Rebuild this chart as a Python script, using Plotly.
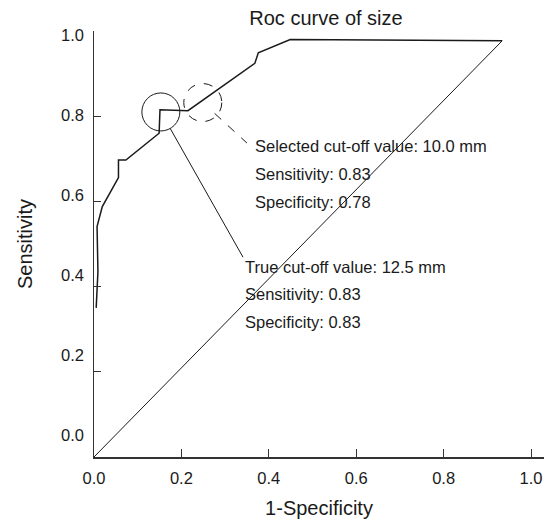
import plotly.graph_objects as go
import math

# ---- data ----
fpr = [0.005, 0.009, 0.007, 0.019, 0.056, 0.056, 0.073, 0.149, 0.151, 0.215, 0.368, 0.376, 0.449, 0.934]
tpr = [0.350, 0.435, 0.541, 0.588, 0.656, 0.697, 0.697, 0.760, 0.815, 0.813, 0.924, 0.949, 0.980, 0.977]
ref_x = [0.0, 0.934]
ref_y = [0.0, 0.977]

tick_vals = [0.0, 0.2, 0.4, 0.6, 0.8, 1.0]
tick_text = ["0.0", "0.2", "0.4", "0.6", "0.8", "1.0"]

true_point = (0.153, 0.810)
selected_point = (0.249, 0.832)
selected_lines = ["Selected cut-off value: 10.0 mm", "Sensitivity: 0.83", "Specificity: 0.78"]
true_lines = ["True cut-off value: 12.5 mm", "Sensitivity: 0.83", "Specificity: 0.83"]

# ---- layout constants (page margin removed by post script) ----
W, H = 544, 519
ML, MR, MT = 94, 0, 31
MB = H - 457
PW, PH = W - ML - MR, H - MT - MB
XPX, YPX = 437.0, 426.0           # px per unit
XMAX = PW / XPX
FONT = "Liberation Sans, Arial, sans-serif"
INK = "#1a1a1a"

fig = go.Figure()
fig.add_trace(go.Scatter(x=fpr, y=tpr, mode="lines", line=dict(color=INK, width=1.5),
                         showlegend=False, hoverinfo="skip"))
fig.add_trace(go.Scatter(x=ref_x, y=ref_y, mode="lines", line=dict(color=INK, width=1),
                         showlegend=False, hoverinfo="skip"))
# carrier trace for label axis
fig.add_trace(go.Scatter(x=[0], y=[0], yaxis="y2", mode="lines", line=dict(width=0),
                         showlegend=False, hoverinfo="skip"))

R = 19.0
rx, ry = R / XPX, R / YPX
shapes = []
for (cx, cy), dash in [(true_point, "solid"), (selected_point, "dash")]:
    shapes.append(dict(type="circle", xref="x", yref="y",
                       x0=cx - rx, x1=cx + rx, y0=cy - ry, y1=cy + ry,
                       line=dict(color=INK, width=1, dash=dash)))

def leader(center, end, r_px, dash):
    cx, cy = center
    ex, ey = end
    dx, dy = (ex - cx) * XPX, (ey - cy) * YPX
    d = math.hypot(dx, dy)
    sx, sy = cx + dx / d * r_px / XPX, cy + dy / d * r_px / YPX
    return dict(type="line", xref="x", yref="y", x0=sx, y0=sy, x1=ex, y1=ey,
                line=dict(color=INK, width=1, dash=dash))

shapes.append(leader(true_point, (0.341, 0.469), R, "solid"))
shapes.append(leader(selected_point, (0.350, 0.737), 16, "dash"))

annotations = []
for i, t in enumerate(selected_lines):
    annotations.append(dict(x=0.363, y=0.730 - i * 0.0655, xref="x", yref="y", text=t,
                            showarrow=False, xanchor="left", yanchor="middle",
                            font=dict(family=FONT, size=16.5, color=INK)))
for i, t in enumerate(true_lines):
    annotations.append(dict(x=0.341, y=0.446 - i * 0.0645, xref="x", yref="y", text=t,
                            showarrow=False, xanchor="left", yanchor="middle",
                            font=dict(family=FONT, size=16.5, color=INK)))

fig.update_layout(
    width=W, height=H,
    margin=dict(l=ML, r=MR, t=MT, b=MB, pad=0, autoexpand=False),
    paper_bgcolor="white", plot_bgcolor="white",
    font=dict(family=FONT, size=16.5, color=INK),
    title=dict(text="Roc curve of size", x=(326 - 94) / PW, xref="paper", xanchor="center",
               y=1 - 18 / H, yref="container", yanchor="middle",
               pad=dict(t=0, b=0, l=0, r=0),
               font=dict(family=FONT, size=20, color=INK)),
    xaxis=dict(range=[0, XMAX], showgrid=False, zeroline=False, showline=True,
               linecolor="#333", linewidth=1.5, ticks="inside", ticklen=8, tickwidth=1,
               tickcolor="#333", tickvals=tick_vals, ticktext=tick_text,
               ticklabelstandoff=6, automargin=False,
               title=dict(text="1-Specificity", font=dict(family=FONT, size=20, color=INK), standoff=14)),
    yaxis=dict(range=[0, 1.0], showgrid=False, zeroline=False, showline=True,
               linecolor="#333", linewidth=1.5, ticks="inside", ticklen=7, tickwidth=1,
               tickcolor="#333", tickvals=tick_vals, showticklabels=False, automargin=False),
    yaxis2=dict(overlaying="y", side="left", anchor="x", automargin=False,
                range=[-22 / 400, 1 + 4 / 400], showgrid=False, zeroline=False, showline=False,
                ticks="", tickvals=tick_vals, ticktext=tick_text, ticklabelstandoff=9,
                title=dict(text="Sensitivity", font=dict(family=FONT, size=20, color=INK), standoff=23)),
    shapes=shapes, annotations=annotations,
)

fig.write_html(
    "out.html",
    config={"displayModeBar": False, "staticPlot": True},
    post_script="document.documentElement.style.overflow='hidden';"
                "document.body.style.margin='0';document.body.style.overflow='hidden';",
)
